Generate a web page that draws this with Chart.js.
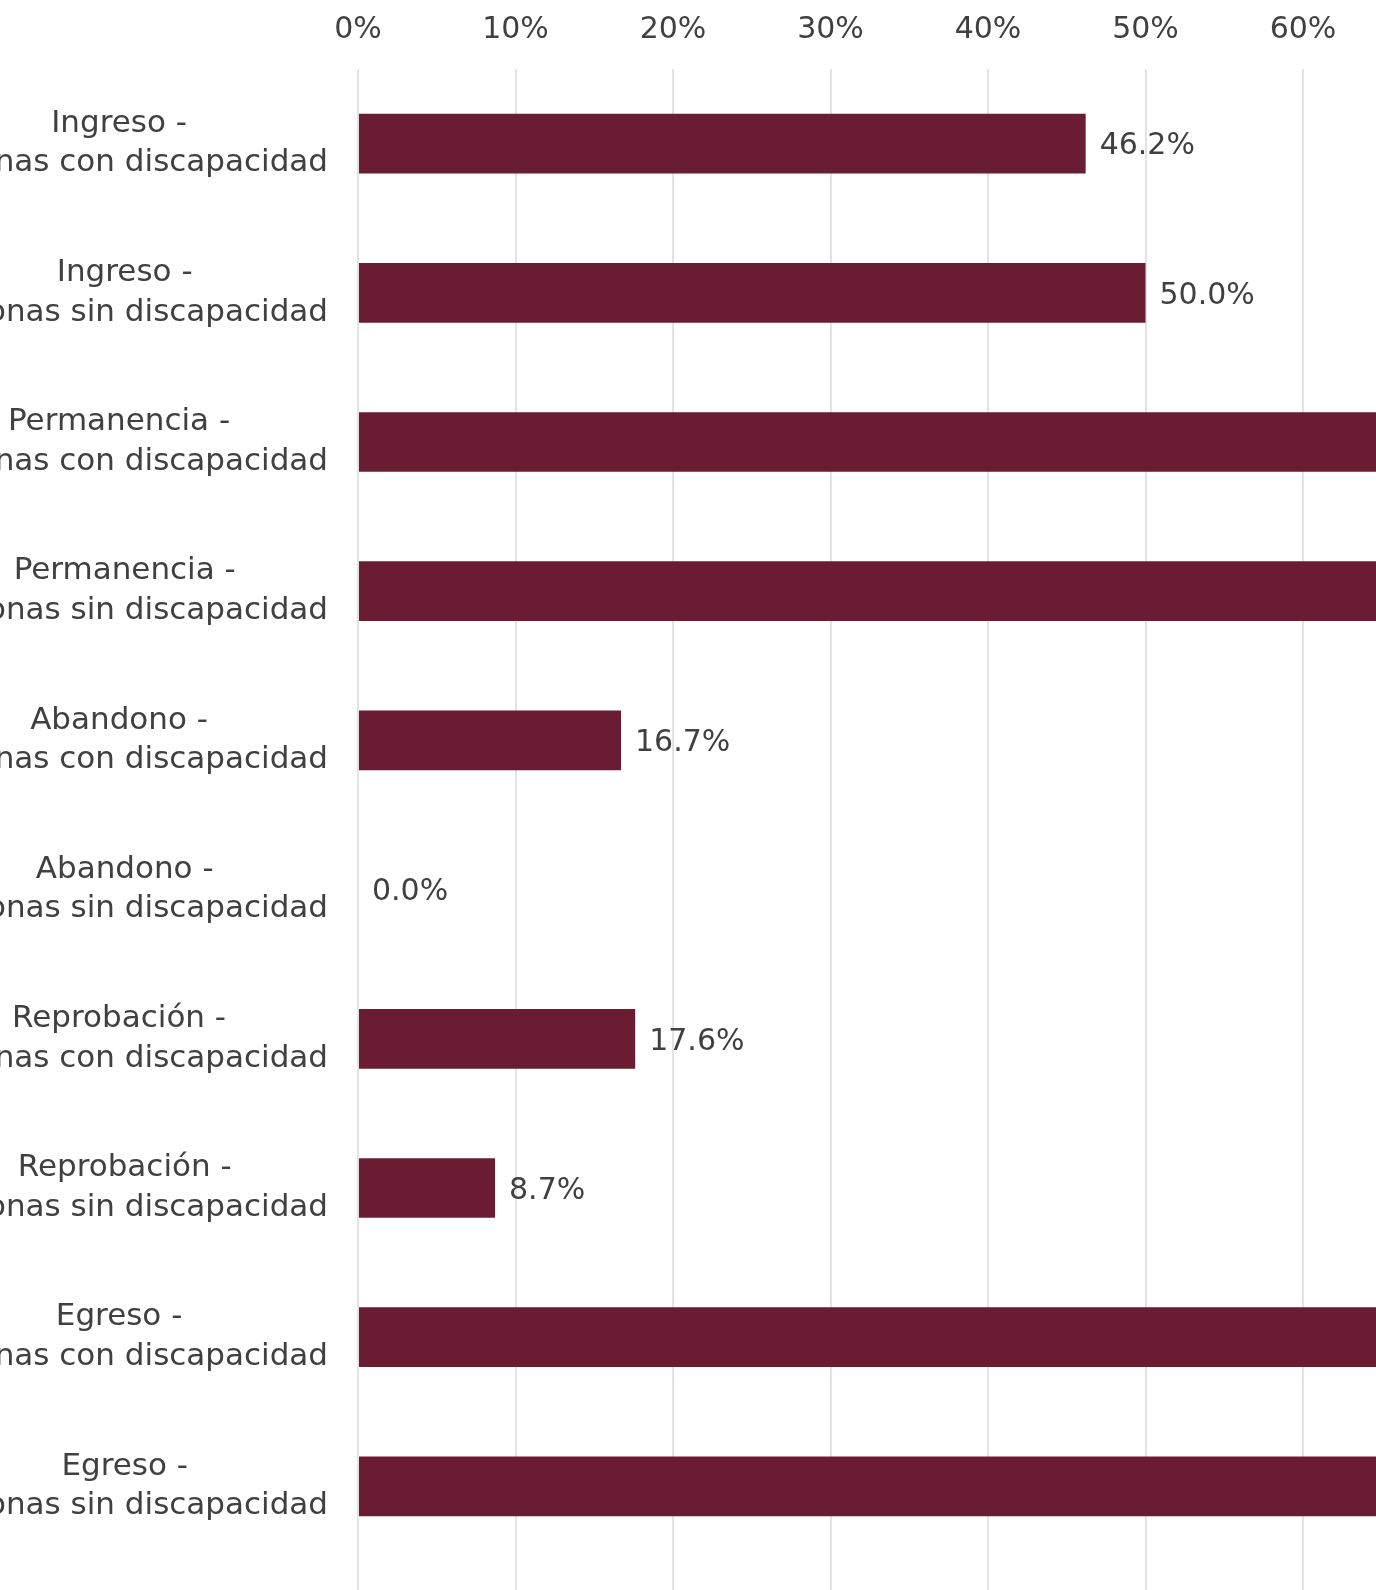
<!DOCTYPE html>
<html lang="es">
<head>
<meta charset="utf-8">
<title>Ingreso, permanencia, abandono, reprobación y egreso</title>
<script src="https://cdn.jsdelivr.net/npm/chart.js@4.4.1/dist/chart.umd.min.js"></script>
<style>
    html, body { margin: 0; padding: 0; overflow: hidden; background: #fff; }
    body { width: 1376px; height: 1590px; position: relative; }
    #wrap { position: absolute; left: -142px; top: -17px; width: 2155px; height: 1607px; }
</style>
</head>
<body>
<div id="wrap"><canvas id="chart"></canvas></div>
<script>
const etapas = ['Ingreso', 'Permanencia', 'Abandono', 'Reprobación', 'Egreso'];
const grupos = ['Personas con discapacidad', 'Personas sin discapacidad'];
// porcentaje por etapa y grupo (con, sin)
const valores = [46.2, 50.0, 83.3, 100.0, 16.7, 0.0, 17.6, 8.7, 82.4, 91.3];
const ticksX = [0, 10, 20, 30, 40, 50, 60, 70, 80, 90, 100];

const FONT = '"DejaVu Sans", sans-serif';
const TEXT = '#404040';
const GRID = '#e3e3e3';

const labels = [];
etapas.forEach(etapa => {
    grupos.forEach(grupo => labels.push([etapa + ' -', grupo]));
});

// etiquetas del eje y: cada bloque alineado a la derecha, líneas centradas
const yLabels = {
    id: 'yLabels',
    afterDraw(chart) {
        const ctx = chart.ctx;
        const y = chart.scales.y;
        ctx.save();
        ctx.font = '31px ' + FONT;
        ctx.fillStyle = TEXT;
        ctx.textAlign = 'center';
        ctx.textBaseline = 'middle';
        labels.forEach((lines, i) => {
            const yc = y.getPixelForTick(i);
            const widest = Math.max(...lines.map(l => ctx.measureText(l).width));
            const xc = y.right - 30 - widest / 2;
            lines.forEach((l, j) => {
                ctx.fillText(l, xc, yc + (j - (lines.length - 1) / 2) * 39.5);
            });
        });
        ctx.restore();
    }
};

const valueLabels = {
    id: 'valueLabels',
    afterDatasetsDraw(chart) {
        const ctx = chart.ctx;
        const meta = chart.getDatasetMeta(0);
        ctx.save();
        ctx.font = '30px ' + FONT;
        ctx.fillStyle = TEXT;
        ctx.textAlign = 'left';
        ctx.textBaseline = 'middle';
        meta.data.forEach((bar, i) => {
            ctx.fillText(valores[i].toFixed(1) + '%', bar.x + 14, bar.y + 3);
        });
        ctx.restore();
    }
};

new Chart(document.getElementById('chart'), {
    type: 'bar',
    data: {
        labels: labels,
        datasets: [{
            data: valores,
            backgroundColor: '#691c32',
            borderWidth: 0,
            barPercentage: 1,
            categoryPercentage: 0.4
        }]
    },
    options: {
        indexAxis: 'y',
        responsive: true,
        maintainAspectRatio: false,
        animation: false,
        layout: { padding: { top: 8, right: 80, left: 0, bottom: 0 } },
        plugins: {
            legend: { display: false },
            tooltip: { enabled: false }
        },
        scales: {
            x: {
                position: 'top',
                min: 0,
                max: 100,
                afterBuildTicks: scale => { scale.ticks = ticksX.map(v => ({ value: v })); },
                ticks: {
                    padding: 21,
                    color: TEXT,
                    font: { family: FONT, size: 30 },
                    callback: v => v + '%'
                },
                grid: { color: GRID, lineWidth: 2, drawTicks: false },
                border: { display: false }
            },
            x2: {
                position: 'bottom',
                min: 0,
                max: 100,
                afterBuildTicks: scale => { scale.ticks = ticksX.map(v => ({ value: v })); },
                ticks: { display: false },
                grid: { color: GRID, lineWidth: 2, drawOnChartArea: false, drawTicks: true, tickLength: 29 },
                border: { display: false }
            },
            y: {
                ticks: { display: false },
                grid: { display: false, drawTicks: false },
                border: { display: false },
                afterFit: scale => { scale.width = 500; }
            }
        }
    },
    plugins: [yLabels, valueLabels]
});
</script>
</body>
</html>
